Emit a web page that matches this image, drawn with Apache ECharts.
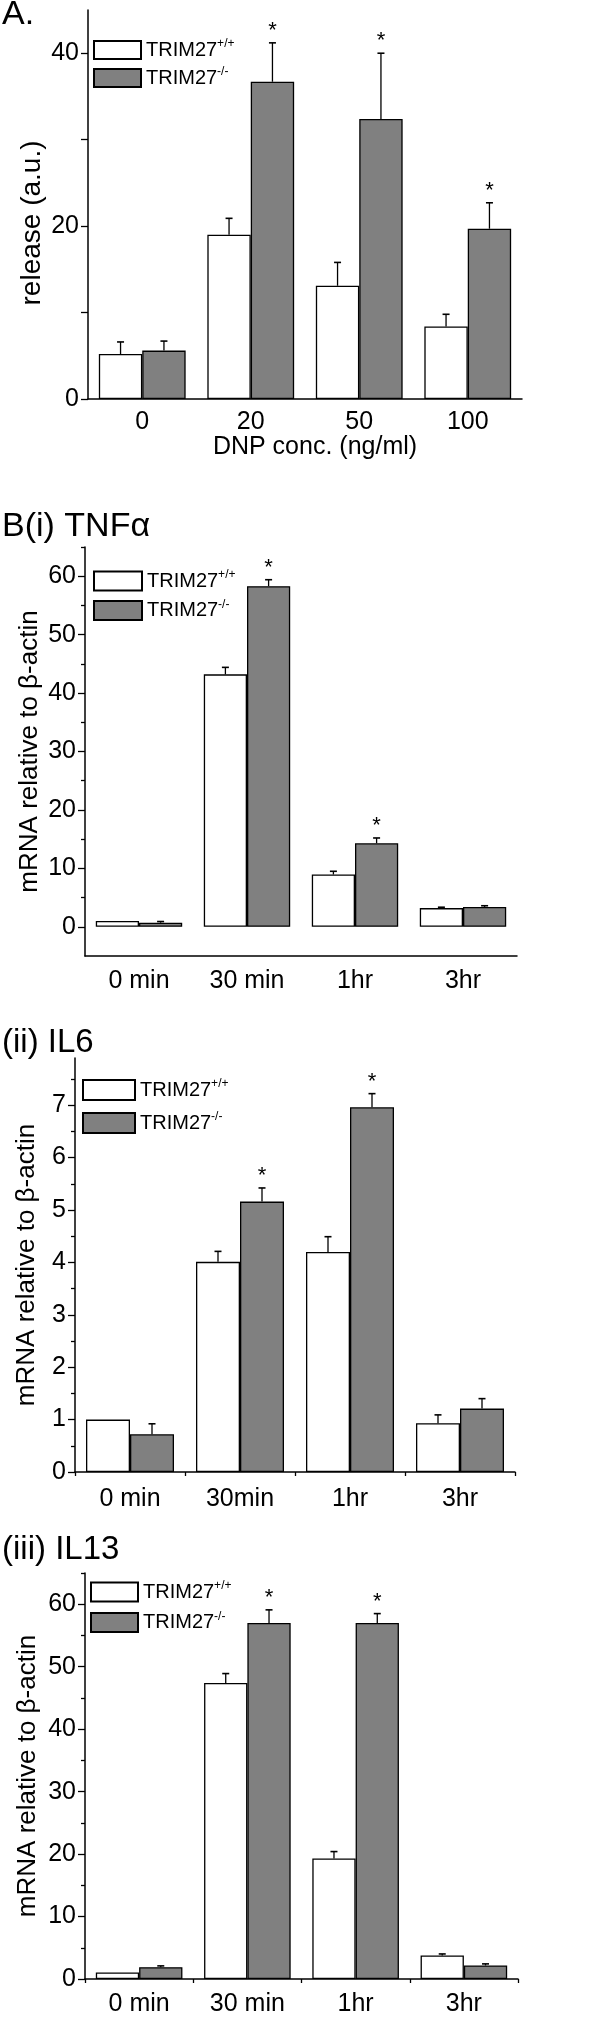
<!DOCTYPE html>
<html>
<head>
<meta charset="utf-8">
<script src="https://cdn.jsdelivr.net/npm/echarts@6/dist/echarts.min.js"></script>
<style>
    html, body { margin: 0; padding: 0; background: #fff; }
    #chart { width: 600px; height: 2017px; }
</style>
</head>
<body>
<div id="chart"></div>
<script>
// series names
const WT = 'TRIM27+/+';
const KO = 'TRIM27-/-';

// A. release vs DNP conc.
const catsA = ['0', '20', '50', '100'];
const wtA = [5.2, 19.0, 13.1, 8.4];
const wtErrA = [1.4, 1.9, 2.7, 1.4];
const koA = [5.6, 36.7, 32.4, 19.7];
const koErrA = [1.1, 4.5, 7.6, 3.0];
const sigA = [false, true, true, true];
const yLabelsA = [0, 20, 40];
const yTicksA = [0, 10, 20, 30, 40];

// B(i) TNFa
const catsB1 = ['0 min', '30 min', '1hr', '3hr'];
const wtB1 = [1.0, 43.2, 8.95, 3.2];
const wtErrB1 = [0, 1.2, 0.55, 0.15];
const koB1 = [0.7, 58.3, 14.3, 3.4];
const koErrB1 = [0.2, 1.1, 0.9, 0.2];
const sigB1 = [false, true, true, false];
const yLabelsB1 = [0, 10, 20, 30, 40, 50, 60];
const yMinorB1 = [5, 15, 25, 35, 45, 55, 65];

// B(ii) IL6
const catsB2 = ['0 min', '30min', '1hr', '3hr'];
const wtB2 = [1.0, 4.01, 4.2, 0.93];
const wtErrB2 = [0, 0.2, 0.29, 0.16];
const koB2 = [0.72, 5.16, 6.96, 1.21];
const koErrB2 = [0.2, 0.26, 0.26, 0.19];
const sigB2 = [false, true, true, false];
const yLabelsB2 = [0, 1, 2, 3, 4, 5, 6, 7];
const yMinorB2 = [0.5, 1.5, 2.5, 3.5, 4.5, 5.5, 6.5, 7.5];

// B(iii) IL13
const catsB3 = ['0 min', '30 min', '1hr', '3hr'];
const wtB3 = [1.06, 47.4, 19.3, 3.76];
const wtErrB3 = [0, 1.5, 1.1, 0.25];
const koB3 = [1.9, 57.0, 57.0, 2.17];
const koErrB3 = [0.2, 2.1, 1.5, 0.25];
const sigB3 = [false, true, true, false];
const yLabelsB3 = [0, 10, 20, 30, 40, 50, 60];
const yMinorB3 = [5, 15, 25, 35, 45, 55, 65];

const FONT = '"Liberation Sans", Arial, sans-serif';
const BLACK = '#000';

const panels = [
    {
        cats: catsA, wt: wtA, wtErr: wtErrA, ko: koA, koErr: koErrA, sig: sigA,
        grid: {left: 88, top: 10, width: 434, height: 389},
        yMin: 0, yMax: 45, yLabels: yLabelsA, yTicks: yTicksA, yMinor: [],
        yName: '', yNameSize: 27, yNameGap: 43,
        xName: 'DNP conc. (ng/ml)', xLabelMargin: 11, boundaryTicks: false,
        legend: {left: 93, top: 38, itemWidth: 47, itemHeight: 18, itemGap: 6}
    },
    {
        cats: catsB1, wt: wtB1, wtErr: wtErrB1, ko: koB1, koErr: koErrB1, sig: sigB1,
        grid: {left: 85, top: 547, width: 432, height: 409},
        yMin: -5, yMax: 65, yLabels: yLabelsB1, yTicks: yLabelsB1, yMinor: yMinorB1,
        yName: 'mRNA relative to β-actin', yNameSize: 26, yNameGap: 42,
        xName: '', xLabelMargin: 13, boundaryTicks: false,
        legend: {left: 93, top: 569, itemWidth: 48, itemHeight: 19, itemGap: 7}
    },
    {
        cats: catsB2, wt: wtB2, wtErr: wtErrB2, ko: koB2, koErr: koErrB2, sig: sigB2,
        grid: {left: 75, top: 1058, width: 440, height: 414},
        yMin: 0, yMax: 7.9, yLabels: yLabelsB2, yTicks: yLabelsB2, yMinor: yMinorB2,
        yName: 'mRNA relative to β-actin', yNameSize: 26, yNameGap: 35,
        xName: '', xLabelMargin: 15, boundaryTicks: true,
        legend: {left: 82, top: 1078, itemWidth: 52, itemHeight: 20, itemGap: 10}
    },
    {
        cats: catsB3, wt: wtB3, wtErr: wtErrB3, ko: koB3, koErr: koErrB3, sig: sigB3,
        grid: {left: 85, top: 1573, width: 433, height: 408},
        yMin: 0, yMax: 65, yLabels: yLabelsB3, yTicks: yLabelsB3, yMinor: yMinorB3,
        yName: 'mRNA relative to β-actin', yNameSize: 26, yNameGap: 44,
        xName: '', xLabelMargin: 13, boundaryTicks: true,
        legend: {left: 90, top: 1580, itemWidth: 47, itemHeight: 19, itemGap: 8}
    }
];

// error bar + significance star, drawn on top of each bar
function errorRenderer(side) {
    return function (params, api) {
        const i = api.value(0), m = api.value(1), e = api.value(2), s = api.value(3);
        const catW = api.size([1, 0])[0];
        const dx = side * catW * 0.8 / 4;
        const p0 = api.coord([i, m]);
        const p1 = api.coord([i, m + e]);
        const x = p0[0] + dx;
        const children = [];
        if (e > 0) {
            children.push({
                type: 'line',
                shape: {x1: x, y1: p0[1], x2: x, y2: p1[1]},
                style: {stroke: BLACK, lineWidth: 1.3}
            });
            children.push({
                type: 'line',
                shape: {x1: x - 3.5, y1: p1[1], x2: x + 3.5, y2: p1[1]},
                style: {stroke: BLACK, lineWidth: 1.6}
            });
        }
        if (s) {
            children.push({
                type: 'text',
                style: {
                    x: x, y: p1[1] - 12, text: '*', fill: BLACK,
                    font: '22px ' + FONT, align: 'center', verticalAlign: 'middle'
                }
            });
        }
        return {type: 'group', children: children};
    };
}

const option = {
    animation: false,
    backgroundColor: '#fff',
    grid: [], xAxis: [], yAxis: [], series: [], legend: [],
    graphic: [
        {type: 'text', left: 2, top: -2, style: {text: 'A.', font: '34px ' + FONT, fill: BLACK}},
        {type: 'text', left: 2, top: 510, style: {text: 'B(i) TNFα', font: '34px ' + FONT, fill: BLACK}},
        {type: 'text', left: 2, top: 1026, style: {text: '(ii) IL6', font: '33px ' + FONT, fill: BLACK}},
        {type: 'text', left: 2, top: 1533, style: {text: '(iii) IL13', font: '33px ' + FONT, fill: BLACK}},
        // panel A y-axis title sits lower than the grid centre in the original
        {type: 'text', x: 32, y: 223, rotation: Math.PI / 2,
            style: {text: 'release (a.u.)', font: '28px ' + FONT, fill: BLACK,
                align: 'center', verticalAlign: 'middle'}}
    ]
};

panels.forEach(function (p, k) {
    option.grid.push(p.grid);

    option.xAxis.push({
        type: 'category', gridIndex: k, data: p.cats, boundaryGap: true, position: 'bottom',
        axisLine: {onZero: false, lineStyle: {color: BLACK, width: 1.5}},
        axisTick: {alignWithLabel: true, length: 8, lineStyle: {color: BLACK, width: 1.3}},
        axisLabel: {margin: p.xLabelMargin, fontSize: 25, color: BLACK, fontFamily: FONT},
        splitLine: {show: false},
        name: p.xName, nameLocation: 'middle', nameGap: 36, nameMoveOverlap: false,
        nameTextStyle: {fontSize: 25, color: BLACK, fontFamily: FONT, padding: [0, 0, 0, 20]}
    });
    // boundary ticks only
    option.xAxis.push({
        type: 'category', gridIndex: k, data: p.cats, boundaryGap: true, position: 'bottom',
        axisLine: {show: false, onZero: false},
        axisTick: {show: p.boundaryTicks, length: 4, lineStyle: {color: BLACK, width: 1.3}},
        axisLabel: {show: false}, splitLine: {show: false}
    });

    option.yAxis.push({
        type: 'value', gridIndex: k, min: p.yMin, max: p.yMax, position: 'left',
        axisLine: {show: true, onZero: false, lineStyle: {color: BLACK, width: 1.5}},
        axisTick: {show: true, length: 7, customValues: p.yTicks, lineStyle: {color: BLACK, width: 1.3}},
        axisLabel: {customValues: p.yLabels, margin: 9, fontSize: 25, color: BLACK, fontFamily: FONT},
        splitLine: {show: false},
        name: p.yName, nameLocation: 'middle', nameGap: p.yNameGap, nameMoveOverlap: false,
        nameTextStyle: {fontSize: p.yNameSize, color: BLACK, fontFamily: FONT}
    });
    // minor ticks
    option.yAxis.push({
        type: 'value', gridIndex: k, min: p.yMin, max: p.yMax, position: 'left', offset: 0,
        axisLine: {show: false, onZero: false},
        axisTick: {show: p.yMinor.length > 0, length: 4, customValues: p.yMinor,
            lineStyle: {color: BLACK, width: 1.3}},
        axisLabel: {show: false}, splitLine: {show: false}
    });

    const barBase = {
        type: 'bar', xAxisIndex: 2 * k, yAxisIndex: 2 * k,
        barGap: '0%', barCategoryGap: '20%', emphasis: {disabled: true}
    };
    option.series.push(Object.assign({}, barBase, {
        name: WT, data: p.wt,
        itemStyle: {color: '#ffffff', borderColor: BLACK, borderWidth: 1.3}
    }));
    option.series.push(Object.assign({}, barBase, {
        name: KO, data: p.ko,
        itemStyle: {color: '#808080', borderColor: BLACK, borderWidth: 1.3}
    }));
    option.series.push({
        type: 'custom', xAxisIndex: 2 * k, yAxisIndex: 2 * k, z: 5, silent: true,
        renderItem: errorRenderer(-1),
        data: p.wt.map(function (v, i) { return [i, v, p.wtErr[i], 0]; })
    });
    option.series.push({
        type: 'custom', xAxisIndex: 2 * k, yAxisIndex: 2 * k, z: 5, silent: true,
        renderItem: errorRenderer(1),
        data: p.ko.map(function (v, i) { return [i, v, p.koErr[i], p.sig[i] ? 1 : 0]; })
    });

    option.legend.push({
        orient: 'vertical', left: p.legend.left, top: p.legend.top, padding: 0,
        itemWidth: p.legend.itemWidth, itemHeight: p.legend.itemHeight, itemGap: p.legend.itemGap,
        icon: 'rect', selectedMode: false,
        data: [WT, KO],
        formatter: function (name) {
            return name === WT ? '{n|TRIM27}{s|+/+}' : '{n|TRIM27}{s|-/-}';
        },
        textStyle: {
            color: BLACK,
            rich: {
                n: {fontSize: 20, lineHeight: 24, fontFamily: FONT, color: BLACK},
                s: {fontSize: 12, lineHeight: 12, fontFamily: FONT, color: BLACK, verticalAlign: 'top'}
            }
        }
    });
});

const chart = echarts.init(document.getElementById('chart'), null, {renderer: 'canvas'});
chart.setOption(option);
</script>
</body>
</html>
